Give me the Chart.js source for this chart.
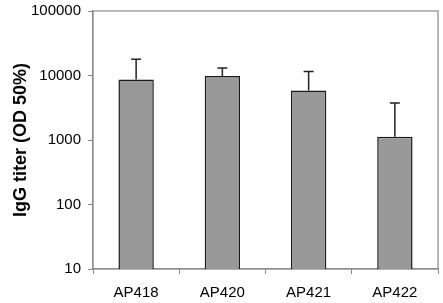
<!DOCTYPE html>
<html>
<head>
<meta charset="utf-8">
<script src="https://cdn.jsdelivr.net/npm/chart.js@4/dist/chart.umd.min.js"></script>
<style>
  html, body { margin: 0; padding: 0; background: #fff; }
  #wrap { width: 443px; height: 303px; }
</style>
</head>
<body>
<div id="wrap"><canvas id="c" width="443" height="303"></canvas></div>
<script>
const categories = ['AP418', 'AP420', 'AP421', 'AP422']
const titers = [8700, 9850, 5850, 1125]
// top end of each error bar (only the upper half is drawn)
const errorTops = [17900, 13100, 11500, 3750]
const yTicks = [10, 100, 1000, 10000, 100000]

const axisGray = '#8c8c8c'
const fontFamily = 'Liberation Sans, Arial, sans-serif'

// upper error bars, placed through the chart's own scales
const errorBars = {
  id: 'errorBars',
  afterDatasetsDraw(chart) {
    const { ctx, scales: { x, y } } = chart
    ctx.save()
    ctx.strokeStyle = '#222'
    ctx.lineWidth = 1.5
    errorTops.forEach((top, i) => {
      const cx = x.getPixelForValue(i)
      const yFrom = y.getPixelForValue(titers[i])
      const yTo = y.getPixelForValue(top)
      ctx.beginPath()
      ctx.moveTo(cx, yFrom)
      ctx.lineTo(cx, yTo)
      ctx.moveTo(cx - 5, yTo)
      ctx.lineTo(cx + 5, yTo)
      ctx.stroke()
    })
    ctx.restore()
  }
}

// grey frame round the plot area
const frame = {
  id: 'frame',
  beforeDatasetsDraw(chart) {
    const { ctx, chartArea: a } = chart
    ctx.save()
    ctx.strokeStyle = axisGray
    ctx.lineWidth = 1.2
    ctx.strokeRect(a.left, a.top, a.right - a.left, a.bottom - a.top)
    ctx.restore()
  }
}

new Chart(document.getElementById('c'), {
  type: 'bar',
  data: {
    labels: categories,
    datasets: [{
      data: titers,
      backgroundColor: '#999999',
      borderColor: '#1a1a1a',
      borderWidth: 1.5,
      borderSkipped: 'bottom',
      categoryPercentage: 1,
      barPercentage: 0.41
    }]
  },
  options: {
    responsive: false,
    animation: false,
    layout: { padding: { top: 11, right: 5, left: 0, bottom: 0 } },
    plugins: {
      legend: { display: false },
      tooltip: { enabled: false }
    },
    scales: {
      x: {
        grid: { display: true, drawOnChartArea: false, offset: true, color: axisGray, tickLength: 5 },
        border: { color: axisGray, width: 1.2 },
        ticks: { color: '#000', font: { family: fontFamily, size: 15 }, padding: 10 },
        afterFit: (s) => { s.height = 34; s.paddingLeft = 0; s.paddingRight = 0 }
      },
      y: {
        type: 'logarithmic',
        min: 10,
        max: 100000,
        afterBuildTicks: (s) => { s.ticks = yTicks.map(v => ({ value: v })) },
        grid: { display: true, drawOnChartArea: false, color: axisGray, tickLength: 5 },
        border: { color: axisGray, width: 1.2 },
        ticks: {
          color: '#000',
          font: { family: fontFamily, size: 15 },
          padding: 7,
          callback: (v) => String(v)
        },
        title: {
          display: true,
          text: 'IgG titer (OD 50%)',
          color: '#000',
          font: { family: fontFamily, size: 18, weight: 'bold' },
          padding: { top: 10, bottom: 0 }
        },
        afterFit: (s) => { s.width = 93; s.paddingTop = 0; s.paddingBottom = 0 }
      }
    }
  },
  plugins: [frame, errorBars]
})
</script>
</body>
</html>
